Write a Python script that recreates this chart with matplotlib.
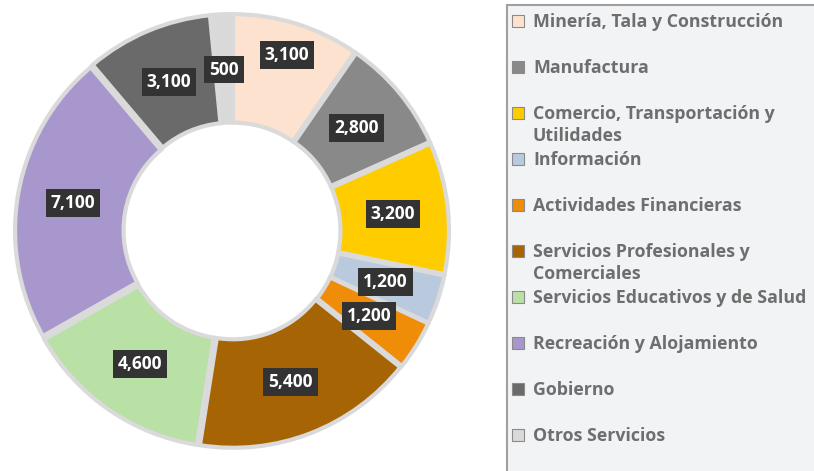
import matplotlib
matplotlib.use('Agg')
import numpy as np
import matplotlib.pyplot as plt
from matplotlib.patches import Rectangle

plt.rcParams['font.family'] = ['Open Sans', 'DejaVu Sans']

sectores = ['Minería, Tala y Construcción', 'Manufactura',
            'Comercio, Transportación y\nUtilidades', 'Información',
            'Actividades Financieras', 'Servicios Profesionales y\nComerciales',
            'Servicios Educativos y de Salud', 'Recreación y Alojamiento',
            'Gobierno', 'Otros Servicios']
empleos = [3100, 2800, 3200, 1200, 1200, 5400, 4600, 7100, 3100, 500]
colores = ['#FDE3CF', '#898989', '#FFCC00', '#BACADE', '#EF8C08',
           '#A66405', '#B9E0A5', '#A897CC', '#6A6A6A', '#D9D9D9']

W, H = 814, 471
fig = plt.figure(figsize=(W / 100, H / 100), dpi=100)

# dona
R = 217
cx, cy = 232, 231
ax = fig.add_axes([(cx - R) / W, (H - cy - R) / H, 2 * R / W, 2 * R / H])
wedges, _ = ax.pie(empleos, colors=colores, startangle=90, counterclock=False,
                   radius=0.985, explode=[0.015] * len(empleos),
                   wedgeprops=dict(width=0.5, edgecolor='#DADADA', linewidth=3))
ax.set_xlim(-1, 1)
ax.set_ylim(-1, 1)
ax.set_aspect('equal')
ax.axis('off')

for i, w in enumerate(wedges):
    ang = np.deg2rad((w.theta1 + w.theta2) / 2)
    r = 0.85 if i == 0 else 0.745
    ax.text(r * np.cos(ang), r * np.sin(ang), f'{empleos[i]:,}',
            ha='center', va='center', color='white', fontsize=12.5,
            fontweight='bold',
            bbox=dict(boxstyle='square,pad=0.28', fc='#333333', ec='none'))

# leyenda
fig.patches.append(Rectangle((507 / W, -0.02), 1, (H - 5) / H + 0.02,
                             transform=fig.transFigure,
                             fc='#F2F3F5', ec='#A0A0A0', lw=1.5, zorder=0))
for i, lab in enumerate(sectores):
    ytop = 21 + 46 * i
    yf = (H - ytop) / H
    fig.patches.append(Rectangle((512 / W, yf - 6 / H), 12 / W, 12 / H,
                                 transform=fig.transFigure, fc=colores[i],
                                 ec='#8a8a8a', lw=0.8))
    fig.text(533 / W, (H - ytop + 8) / H, lab, ha='left', va='top',
             fontsize=12.8, fontweight='bold', color='#6E6E6E', linespacing=1.32)

fig.savefig('out.png', dpi=100)
